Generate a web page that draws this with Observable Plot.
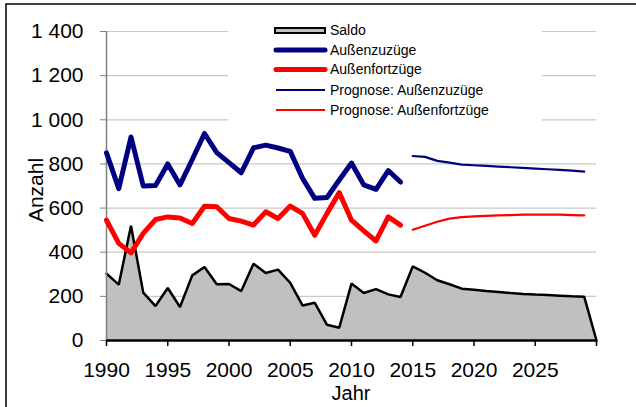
<!DOCTYPE html>
<html><head><meta charset="utf-8">
<script src="https://cdn.jsdelivr.net/npm/d3@7"></script>
<script src="https://cdn.jsdelivr.net/npm/@observablehq/plot@0.6"></script>
<style>body{margin:0;background:#fff;} svg{display:block}</style>
</head><body><div id="chart"></div>
<script>
// ---- data ----
const years = [1990,1991,1992,1993,1994,1995,1996,1997,1998,1999,2000,2001,2002,2003,2004,2005,2006,2007,2008,2009,2010,2011,2012,2013,2014];
const zuzuege = [850,688,922,700,702,800,705,820,938,851,806,760,873,885,872,857,735,644,648,727,804,705,685,770,718];
const fortzuege = [545,440,397,485,548,560,555,530,608,606,553,541,523,583,553,609,576,477,576,670,545,497,451,560,523];
const saldoYears = [1990,1991,1992,1993,1994,1995,1996,1997,1998,1999,2000,2001,2002,2003,2004,2005,2006,2007,2008,2009,2010,2011,2012,2013,2014,2015,2016,2017,2018,2019,2020,2021,2022,2023,2024,2025,2026,2027,2028,2029,2030];
const saldo = [303,253,520,217,156,238,152,295,333,255,256,224,348,306,321,261,159,171,71,58,258,215,233,209,197,336,307,273,255,235,230,224,220,215,211,208,206,203,200,198,0];
const progYears = [2015,2016,2017,2018,2019,2020,2021,2022,2023,2024,2025,2026,2027,2028,2029];
const progZuzuege = [836,832,814,806,797,794,791,788,785,782,779,776,773,770,765];
const progFortzuege = [502,520,538,552,559,562,565,567,568,570,570,570,570,568,567];
const yTicks = [0,200,400,600,800,1000,1200,1400];
const xTicks = [1990,1995,2000,2005,2010,2015,2020,2025,2030];
const xTickLabels = ["1990","1995","2000","2005","2010","2015","2020","2025",""];
const legendLabels = ["Saldo","Außenzuzüge","Außenfortzüge","Prognose: Außenzuzüge","Prognose: Außenfortzüge"];
const axisLabels = {x:"Jahr", y:"Anzahl"};

const hist = years.map((y,i)=>({year:y, zu:zuzuege[i], fort:fortzuege[i]}));
const prog = progYears.map((y,i)=>({year:y, zu:progZuzuege[i], fort:progFortzuege[i]}));
const sal = saldoYears.map((y,i)=>({year:y, v:saldo[i]}));

const FONT = "Liberation Sans, Arial, Helvetica, sans-serif";
const blue = "#000080", red = "#ff0000";

const chart = Plot.plot({
  width:636, height:407,
  marginLeft:106, marginRight:40, marginTop:31, marginBottom:67,
  style:{fontFamily:FONT, fontSize:"21px", background:"white", color:"black", overflow:"visible"},
  x:{domain:[1990,2030]},
  y:{domain:[0,1400]},
  marks:[
    Plot.gridY({ticks: yTicks.filter(d=>d>0), stroke:"#c8c8c8", strokeOpacity:1, strokeWidth:1.2}),
    Plot.areaY(sal, {x:"year", y:"v", fill:"#c0c0c0"}),
    Plot.lineY(sal, {x:"year", y:"v", stroke:"black", strokeWidth:2.5, strokeLinejoin:"miter"}),
    Plot.ruleX([1990], {y1:0, y2:1400, stroke:"#808080", strokeWidth:1.5}),
    Plot.ruleY([0], {stroke:"black", strokeWidth:2.5}),
    Plot.axisY({ticks:yTicks, tickFormat:d=>d3.format(",")(d).replace(","," "), tickSize:6, tickPadding:17, stroke:"#808080", label:null, fontSize:21}),
    Plot.axisX({ticks:xTicks, tickFormat:(d)=>xTickLabels[xTicks.indexOf(d)], tickSize:6, tickPadding:16, stroke:"black", strokeWidth:1.5, label:null, fontSize:21}),
    Plot.lineY(hist, {x:"year", y:"zu", stroke:blue, strokeWidth:5, strokeLinejoin:"round", strokeLinecap:"round"}),
    Plot.lineY(hist, {x:"year", y:"fort", stroke:red, strokeWidth:5, strokeLinejoin:"round", strokeLinecap:"round"}),
    Plot.lineY(prog, {x:"year", y:"zu", stroke:blue, strokeWidth:2.2}),
    Plot.lineY(prog, {x:"year", y:"fort", stroke:red, strokeWidth:2.2})
  ]
});
document.getElementById("chart").appendChild(chart);

const svg = d3.select(chart);
// outer frame
svg.append("rect").attr("x",6).attr("y",4).attr("width",700).attr("height",500)
  .attr("fill","none").attr("stroke","black").attr("stroke-width",1.5);
// axis titles
svg.append("text").attr("x",351).attr("y",400).attr("text-anchor","middle")
  .attr("font-family",FONT).attr("font-size",20).text(axisLabels.x);
svg.append("text").attr("transform","translate(43,190) rotate(-90)").attr("text-anchor","middle")
  .attr("font-family",FONT).attr("font-size",21).text(axisLabels.y);
// legend
const lg = svg.append("g").attr("text-anchor","start");
lg.append("rect").attr("x",228).attr("y",18).attr("width",314).attr("height",106).attr("fill","white");
const rowsY = [30.5, 50, 69.5, 90, 110];
lg.append("rect").attr("x",275).attr("y",28).attr("width",50).attr("height",5)
  .attr("fill","#c0c0c0").attr("stroke","black").attr("stroke-width",2);
const styles = [null,[blue,5],[red,5],[blue,2],[red,2]];
for (let i=1;i<5;i++){
  lg.append("line").attr("x1",276).attr("x2",325).attr("y1",rowsY[i]).attr("y2",rowsY[i])
    .attr("stroke",styles[i][0]).attr("stroke-width",styles[i][1]).attr("stroke-linecap", styles[i][1]>3?"round":"butt");
}
legendLabels.forEach((t,i)=>{
  lg.append("text").attr("x",330).attr("y",rowsY[i]).attr("dy","0.35em").attr("text-anchor","start")
    .attr("font-family",FONT).attr("font-size",14).text(t);
});
</script>
</body></html>
